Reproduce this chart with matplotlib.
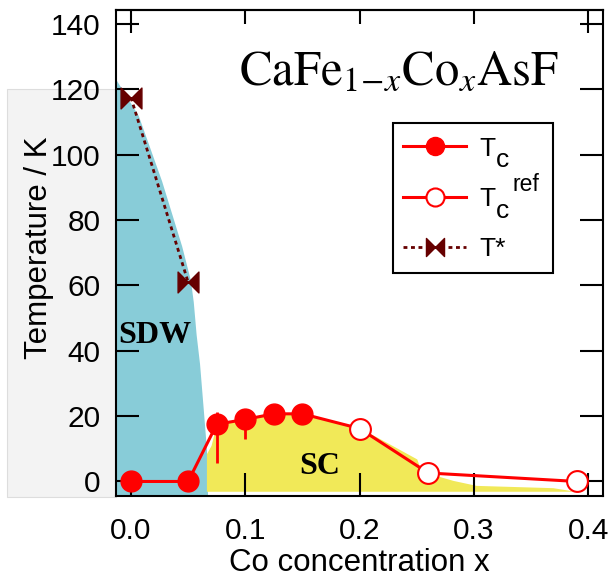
import numpy as np
import matplotlib.pyplot as plt
import matplotlib.lines as mlines
from matplotlib.path import Path
from matplotlib.patches import Rectangle

plt.rcParams['font.family'] = 'Liberation Sans'
plt.rcParams['mathtext.fontset'] = 'stix'

# superconducting Tc (this work) and literature Tc
tc_x = [0.0, 0.05, 0.075, 0.1, 0.125, 0.15]
tc_T = [0.0, 0.0, 17.5, 19.0, 20.7, 20.7]
tc_err_lo = [0, 0, 12.0, 6.0, 0, 0]
tc_err_hi = [0, 0, 3.7, 2.0, 0, 0]
ref_x = [0.2, 0.26, 0.39]
ref_T = [16.2, 2.6, 0.0]

# structural / magnetic transition T*
ts_x = [0.0, 0.05]
ts_T = [117.5, 61.0]

# SDW phase boundary
sdw_T = [-4.5, 10, 21, 36, 45, 55, 61.6, 72, 82, 92, 102, 112, 123]
sdw_x = [0.067, 0.066, 0.0635, 0.060, 0.057, 0.0545, 0.052, 0.0444, 0.0356, 0.0268,
         0.0166, 0.0064, -0.0131]

# SC dome outline
sc_x = [0.066, 0.070, 0.073, 0.076, 0.1, 0.125, 0.15, 0.165, 0.2, 0.215, 0.226,
        0.25, 0.252, 0.265, 0.282, 0.302, 0.369, 0.385]
sc_top = [8.5, 11, 15, 18, 19.3, 20.5, 20.5, 19.7, 16.3, 13.6, 11.5,
          6.9, 4.9, 2.0, 0.3, -1.2, -1.9, -2.8]
sc_bottom = -3.0

red = '#ff0000'
dark = '#660000'

fig = plt.figure(figsize=(6.14, 5.79), dpi=100)
fig.patches.append(Rectangle((0.0114, 0.1416), 0.1775, 0.7047, transform=fig.transFigure,
                             facecolor='#f3f3f3', edgecolor='#dddddd', lw=0.8, zorder=-1))
ax = fig.add_axes([0.1889, 0.1434, 0.7932, 0.8394])
xlim = (-0.0131, 0.4129)
ax.set_xlim(xlim)
ax.set_ylim(-4.44, 144.3)

ax.fill_betweenx(sdw_T, xlim[0], sdw_x, color='#88ccd8', lw=0, zorder=1)
ax.fill_between(sc_x, sc_bottom, sc_top, color='#f1e958', lw=0, zorder=1)

# T* with bow-tie markers
bowtie = Path([(-1, -1), (0, 0), (-1, 1), (-1, -1), (1, -1), (0, 0), (1, 1), (1, -1)],
              [Path.MOVETO, Path.LINETO, Path.LINETO, Path.CLOSEPOLY,
               Path.MOVETO, Path.LINETO, Path.LINETO, Path.CLOSEPOLY])
ts_style = dict(color=dark, lw=2.0, dashes=(1.4, 1.3), marker=bowtie, ms=15, mfc=dark, mec=dark)
ax.plot(ts_x, ts_T, zorder=3, **ts_style)

# Tc line through all points
ax.plot(tc_x + ref_x, tc_T + ref_T, color=red, lw=2.2, zorder=3)
ax.errorbar(tc_x, tc_T, yerr=[tc_err_lo, tc_err_hi], fmt='none', ecolor=red, elinewidth=2, zorder=3)
ax.plot(tc_x, tc_T, marker='o', ms=15, mfc=red, mec=red, ls='none', zorder=4)
ax.plot(ref_x, ref_T, marker='o', ms=15, mfc='white', mec=red, mew=1.5, ls='none', zorder=4)

ax.text(0.021, 44.7, 'SDW', family='Liberation Serif', weight='bold', fontsize=23,
        ha='center', va='center', zorder=5)
ax.text(0.165, 4.5, 'SC', family='Liberation Serif', weight='bold', fontsize=23,
        ha='center', va='center', zorder=5)
ax.text(0.234, 121.5, r'$\mathrm{CaFe}_{1\!-\!x}\mathrm{Co}_{x}\mathrm{AsF}$', fontsize=35,
        ha='center', va='baseline')

# legend: frame drawn separately, subscripts added next to the labels
l1 = mlines.Line2D([], [], color=red, lw=2.2, marker='o', ms=13, mfc=red, mec=red)
l2 = mlines.Line2D([], [], color=red, lw=2.2, marker='o', ms=13, mfc='white', mec=red, mew=1.5)
l3 = mlines.Line2D([], [], **dict(ts_style, ms=13))
leg = ax.legend([l1, l2, l3], ['T', 'T', 'T*'], loc='center left',
                bbox_to_anchor=(0.589, 0.611), borderaxespad=0, borderpad=0,
                fontsize=19, handlelength=2.4, handletextpad=0.5, labelspacing=1.0,
                frameon=False)
ax.add_patch(Rectangle((0.5688, 0.4582), 0.3275, 0.3087, transform=ax.transAxes,
                       facecolor='white', edgecolor='black', lw=1.5, zorder=4.5))
texts = leg.get_texts()
for t in texts[:2]:
    ax.annotate('c', xy=(1, 0), xycoords=t, xytext=(0.5, -8.4), textcoords='offset points',
                fontsize=19, ha='left', va='bottom', zorder=6, annotation_clip=False)
ax.annotate('ref', xy=(1, 0), xycoords=texts[1], xytext=(12, 10.8), textcoords='offset points',
            fontsize=16.5, ha='left', va='bottom', zorder=6, annotation_clip=False)

for s in ax.spines.values():
    s.set_linewidth(1.5)
ax.set_xticks([0.0, 0.1, 0.2, 0.3, 0.4])
ax.set_xticklabels(['0.0', '0.1', '0.2', '0.3', '0.4'])
ax.set_yticks(np.arange(0, 141, 20))
ax.tick_params(direction='in', length=16.5, width=1.5, labelsize=21.5, right=True)
ax.tick_params(axis='x', pad=15)
ax.tick_params(axis='y', pad=11)

top = ax.secondary_xaxis('top')
top.set_xticks([0.0, 0.4])
top.set_xticks([0.1, 0.2, 0.3], minor=True)
top.tick_params(which='major', direction='in', length=16.5, width=1.5, labeltop=False)
top.tick_params(which='minor', direction='in', length=10, width=1.5)
top.spines['top'].set_linewidth(1.5)

ax.set_xlabel('Co concentration x', fontsize=22.5)
ax.set_ylabel('Temperature / K', fontsize=22.5)
ax.xaxis.set_label_coords(0.5, -0.107)
ax.yaxis.set_label_coords(-0.128, 0.51)

fig.savefig('out.png', dpi=100)
